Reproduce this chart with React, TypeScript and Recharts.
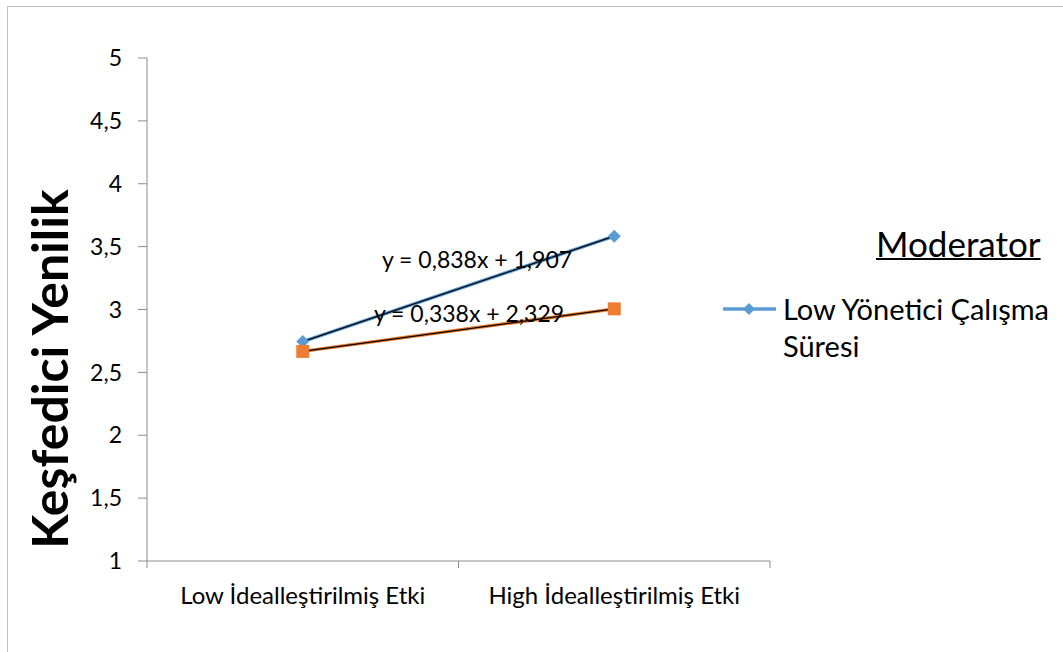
import { Line, LineChart, XAxis, YAxis, Legend } from "recharts";

const categories = ["Low İdealleştirilmiş Etki", "High İdealleştirilmiş Etki"];
const lowTenure = [2.745, 3.583];
const highTenure = [2.667, 3.005];
const yTicks = [1, 1.5, 2, 2.5, 3, 3.5, 4, 4.5, 5];
const equations = ["y = 0,838x + 1,907", "y = 0,338x + 2,329"];
const legendTitle = "Moderator";
const legendItems = ["Low Yönetici Çalışma", "Süresi"];

const data = categories.map((c, i) => ({ label: c, low: lowTenure[i], high: highTenure[i] }));

const FONT = "Lato, 'Open Sans', sans-serif";
const BLUE = "#5B9BD5";
const ORANGE = "#ED7D31";
const AXIS = "#8c8c8c";
const W = 1063;
const H = 652;
const M = { top: 58, right: 293, bottom: 61, left: 0 };
const BAND = (W - 147 - M.right) / categories.length;

function Diamond(props: any) {
  const { cx, cy } = props;
  if (cx == null || cy == null) return null;
  return <path d={`M${cx},${cy - 6.5}L${cx + 6.5},${cy}L${cx},${cy + 6.5}L${cx - 6.5},${cy}Z`} fill={BLUE} />;
}

function Square(props: any) {
  const { cx, cy } = props;
  if (cx == null || cy == null) return null;
  return <rect x={cx - 6.5} y={cy - 6.5} width={13} height={13} fill={ORANGE} />;
}

function XTick(props: any) {
  const { x, y, payload, index } = props;
  return (
    <g>
      {index === 0 && <line x1={x - BAND / 2} x2={x - BAND / 2} y1={y - 8} y2={y - 1} stroke={AXIS} />}
      <line x1={x + BAND / 2} x2={x + BAND / 2} y1={y - 8} y2={y - 1} stroke={AXIS} />
      <text x={x} y={y + 35} textAnchor="middle" fontSize={24} fontFamily={FONT} fill="#000">
        {payload.value}
      </text>
    </g>
  );
}

function LegendBox() {
  return (
    <div style={{ fontFamily: FONT, color: "#000", position: "relative", width: 340, height: 150 }}>
      <div style={{ position: "absolute", left: 156, top: 2, fontSize: 35, textDecoration: "underline", textDecorationThickness: 2, lineHeight: "40px", whiteSpace: "nowrap" }}>
        {legendTitle}
      </div>
      <svg style={{ position: "absolute", left: 0, top: 80 }} width={60} height={16}>
        <line x1={3} x2={56} y1={8} y2={8} stroke={BLUE} strokeWidth={3.5} />
        <path d="M29,2L35,8L29,14L23,8Z" fill={BLUE} />
      </svg>
      <div style={{ position: "absolute", left: 63, top: 69, fontSize: 29, lineHeight: "37px", whiteSpace: "nowrap" }}>
        {legendItems.map((t) => (
          <div key={t}>{t}</div>
        ))}
      </div>
    </div>
  );
}

export default function App() {
  return (
    <div style={{ position: "absolute", left: 0, top: 0, width: W, height: H, background: "#fff", overflow: "hidden" }}>
      <div style={{ position: "absolute", left: 7, top: 6, width: W, height: H, borderTop: "1px solid #bfbfbf", borderLeft: "1px solid #bfbfbf" }} />
      <LineChart width={W} height={H} data={data} margin={M}>
        <XAxis dataKey="label" scale="band" height={30} axisLine={{ stroke: AXIS }} tickLine={false} tick={<XTick />} interval={0} />
        <YAxis
          domain={[1, 5]}
          ticks={yTicks}
          width={147}
          tickSize={9}
          tickMargin={16}
          axisLine={{ stroke: AXIS }}
          tickLine={{ stroke: AXIS }}
          tick={{ fontSize: 23, fontFamily: FONT, fill: "#000" }}
          tickFormatter={(v: number) => String(v).replace(".", ",")}
          label={{
            content: () => (
              <text x={68} y={369} transform="rotate(-90 68 369)" textAnchor="middle" fontSize={50} fontWeight="bold" fontFamily={FONT} fill="#000">
                Keşfedici Yenilik
              </text>
            ),
          }}
        />
        <Legend layout="vertical" align="center" verticalAlign="middle" content={<LegendBox />} wrapperStyle={{ left: 720, top: 221, width: 340 }} />
        <Line dataKey="low" name="Low Yönetici Çalışma Süresi" stroke={BLUE} strokeWidth={3.5} dot={<Diamond />} activeDot={false} isAnimationActive={false} />
        <Line dataKey="high" name="High Yönetici Çalışma Süresi" stroke={ORANGE} strokeWidth={3.5} dot={<Square />} activeDot={false} isAnimationActive={false} legendType="none" />
        <Line dataKey="low" stroke="#000" strokeWidth={1.25} dot={false} activeDot={false} isAnimationActive={false} legendType="none" />
        <Line dataKey="high" stroke="#000" strokeWidth={1.25} dot={false} activeDot={false} isAnimationActive={false} legendType="none" />
      </LineChart>
      <svg style={{ position: "absolute", left: 0, top: 0, pointerEvents: "none" }} width={W} height={H}>
        <text x={477} y={268} textAnchor="middle" fontSize={23} fontFamily={FONT} fill="#000">{equations[0]}</text>
        <text x={469} y={322} textAnchor="middle" fontSize={23} fontFamily={FONT} fill="#000">{equations[1]}</text>
      </svg>
    </div>
  );
}
